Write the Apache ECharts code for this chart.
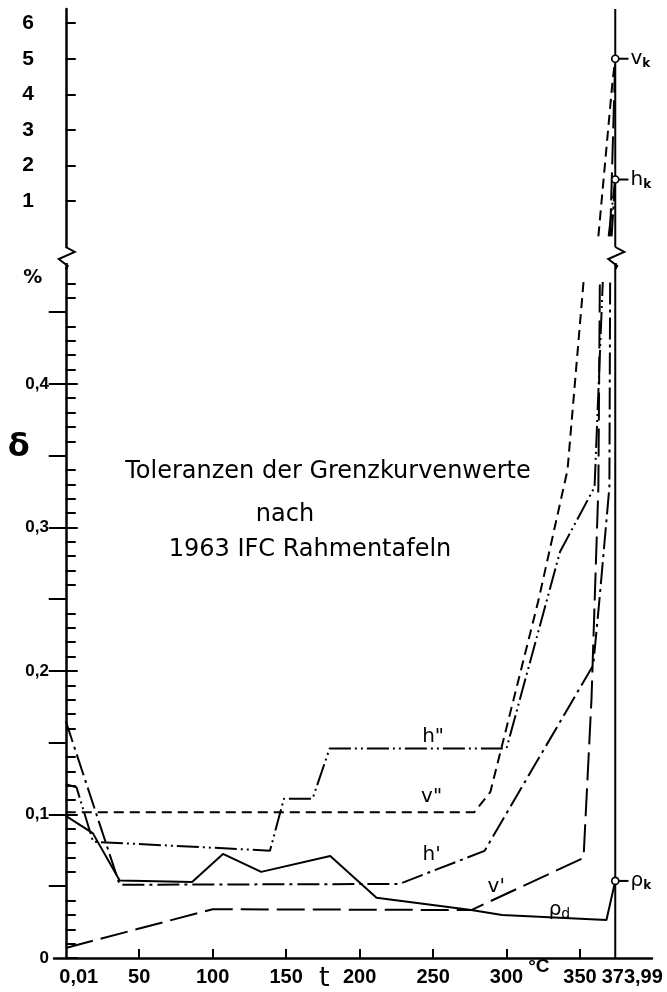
<!DOCTYPE html>
<html>
<head>
<meta charset="utf-8">
<script src="https://cdn.jsdelivr.net/npm/echarts@6/dist/echarts.min.js"></script>
<style>
  html, body { margin: 0; padding: 0; background: #fff; }
  #main { width: 667px; height: 992px; }
</style>
</head>
<body>
<div id="main"></div>
<script>
// t in °C, tolerance delta in %
const tCrit = 373.99;
const xTickValues = [50, 100, 150, 200, 250, 300, 350];
const xLabelValues = [0.01, 50, 100, 150, 200, 250, 300, 350, 373.99];
const yLowLabels = [0, 0.1, 0.2, 0.3, 0.4];
const yUpLabels = [1, 2, 3, 4, 5, 6];

// lower part of the plot (0 ... 0.47 %)
const hPP = [[0.01, 0.121], [7.3, 0.119], [18.6, 0.081], [139, 0.0748], [148.5, 0.111], [168, 0.111], [179.6, 0.146], [300, 0.146], [336.4, 0.283], [359.9, 0.328], [365.5, 0.471]];
const vPP = [[0.01, 0.1015], [278, 0.1015], [289, 0.1157], [321.8, 0.2495], [341.5, 0.34], [352.4, 0.471]];
const hP = [[0.01, 0.165], [36.7, 0.051], [227, 0.0516], [285, 0.0746], [359, 0.204], [363, 0.247], [370, 0.328], [370.5, 0.471]];
const vP = [[0.01, 0.007], [100, 0.034], [276, 0.0334], [352.4, 0.0697], [357.8, 0.18], [362.5, 0.328], [363.5, 0.471]];
const rhoD = [[0.01, 0.099], [18.4, 0.087], [36.7, 0.054], [86, 0.053], [107, 0.0725], [133, 0.06], [180, 0.071], [211.5, 0.042], [276, 0.0334], [297, 0.03], [368, 0.0265], [373.99, 0.0537]];

// upper part of the plot (1 ... 6 %)
const hPPUp = [[369.5, 0], [373.99, 1.6]];
const hPUp = [[371.5, 0], [373.99, 1.6]];
const vPPUp = [[362.5, 0], [372, 4.3], [373.99, 5.0]];
const vPUp = [[370.5, 0], [373.99, 5.0]];

// values at the critical point
const vK = 5.0;
const hK = 1.6;
const rhoK = 0.0537;

// curve captions and where they sit
const curveNames = ['h"', 'v"', "h'", "v'", 'ρd'];
const curveNameAt = [[250, 0.154], [249, 0.1124], [249, 0.0718], [293, 0.0497], [336, 0.0334]];

const ink = '#000';
const xMin = -8, xMax = 399;
const upMin = -0.3, upMax = 6.4;
const lowMax = 0.48;
const leadLen = 9;

// small ticks every 0.01, medium every 0.05
const minorTicks = [];
for (let i = 1; i <= 47; i++) if (i % 5) minorTicks.push(i / 100);
const midTicks = [];
for (let i = 1; i <= 9; i++) midTicks.push(i * 5 / 100);

const chart = echarts.init(document.getElementById('main'));

function curve(data, dash, upper) {
  return {
    type: 'line', data: data, symbol: 'none', silent: true,
    xAxisIndex: upper ? 0 : 1, yAxisIndex: upper ? 0 : 2,
    lineStyle: { color: ink, width: 2, type: dash, opacity: 1 }, z: 3
  };
}

const tickStyle = { color: ink, width: 2 };
const noSplit = { show: false };
const numFont = '"Liberation Sans", Arial, sans-serif';

const option = {
  animation: false,
  backgroundColor: '#fff',
  textStyle: { fontFamily: numFont, color: ink },
  grid: [
    { left: 54, width: 598, top: 9, height: 238, containLabel: false, outerBoundsMode: 'none' },
    { left: 54, width: 598, top: 269, height: 689, containLabel: false, outerBoundsMode: 'none' }
  ],
  xAxis: [
    { gridIndex: 0, type: 'value', min: xMin, max: xMax, show: false, splitLine: noSplit },
    {
      gridIndex: 1, type: 'value', min: xMin, max: xMax,
      axisLine: { onZero: false, lineStyle: { color: ink, width: 2.5 } },
      axisTick: { customValues: xTickValues, inside: true, length: 9, lineStyle: tickStyle },
      axisLabel: {
        customValues: xLabelValues, margin: 9, fontSize: 20, fontWeight: 'bold', color: ink, fontFamily: numFont,
        formatter: function (v) {
          if (v === 0.01) return '{l|0,01}';
          if (v === tCrit) return '{r|373,99}';
          return String(v);
        },
        rich: {
          l: { fontSize: 20, fontWeight: 'bold', fontFamily: numFont, color: ink, padding: [0, 0, 0, 26] },
          r: { fontSize: 20, fontWeight: 'bold', fontFamily: numFont, color: ink, padding: [0, 0, 0, 34] }
        }
      },
      splitLine: noSplit
    },
    {
      gridIndex: 1, type: 'value', min: xMin, max: xMax,
      axisLine: { show: false, onZero: false },
      axisTick: { customValues: [0, tCrit], length: 6, lineStyle: { color: ink, width: 2.5 } },
      axisLabel: { show: false }, splitLine: noSplit
    }
  ],
  yAxis: [
    {
      gridIndex: 0, type: 'value', min: upMin, max: upMax,
      axisLine: { show: true, onZero: true, onZeroAxisIndex: 0, lineStyle: { color: ink, width: 2.5 } },
      axisTick: { customValues: yUpLabels, inside: true, length: 10, lineStyle: tickStyle },
      axisLabel: { customValues: yUpLabels, margin: 20, fontSize: 21, fontWeight: 'bold', color: ink, fontFamily: numFont },
      splitLine: noSplit
    },
    {
      gridIndex: 0, type: 'value', min: upMin, max: upMax,
      axisLine: { show: false, onZero: true, onZeroAxisIndex: 0 },
      axisTick: { customValues: yUpLabels, length: 9, lineStyle: tickStyle },
      axisLabel: { show: false }, splitLine: noSplit
    },
    {
      gridIndex: 1, type: 'value', min: 0, max: lowMax,
      axisLine: { show: true, onZero: true, onZeroAxisIndex: 1, lineStyle: { color: ink, width: 2.5 } },
      axisTick: { customValues: minorTicks, inside: true, length: 10, lineStyle: tickStyle },
      axisLabel: {
        customValues: yLowLabels, margin: 5, fontSize: 17, fontWeight: 'bold', color: ink, fontFamily: numFont,
        formatter: function (v) { return String(v).replace('.', ','); }
      },
      splitLine: noSplit
    },
    {
      gridIndex: 1, type: 'value', min: 0, max: lowMax,
      axisLine: { show: false, onZero: true, onZeroAxisIndex: 1 },
      axisTick: { customValues: midTicks, inside: true, length: 17, lineStyle: tickStyle },
      axisLabel: { show: false }, splitLine: noSplit
    },
    {
      gridIndex: 1, type: 'value', min: 0, max: lowMax,
      axisLine: { show: false, onZero: true, onZeroAxisIndex: 1 },
      axisTick: { customValues: yLowLabels, length: 12, lineStyle: tickStyle },
      axisLabel: { show: false }, splitLine: noSplit
    }
  ],
  series: [
    curve(hPP, [22, 4, 2, 4, 2, 4], false),
    curve(vPP, [10, 6], false),
    curve(hP, [22, 5, 3, 5], false),
    curve(vP, [28, 8], false),
    curve(rhoD, 'solid', false),
    curve(hPPUp, [22, 4, 2, 4, 2, 4], true),
    curve(hPUp, [22, 5, 3, 5], true),
    curve(vPPUp, [10, 6], true),
    curve(vPUp, [28, 8], true),
    // critical isotherm
    {
      type: 'line', xAxisIndex: 0, yAxisIndex: 0, symbol: 'none', silent: true,
      data: [[tCrit, upMin], [tCrit, upMax]], lineStyle: { color: ink, width: 2 }, z: 4
    },
    {
      type: 'line', xAxisIndex: 1, yAxisIndex: 2, symbol: 'none', silent: true,
      data: [[tCrit, 0], [tCrit, lowMax]], lineStyle: { color: ink, width: 2 }, z: 4
    },
    // leader lines to the critical point captions
    ...[[0, vK], [0, hK], [2, rhoK]].map(function (p) {
      return {
        type: 'line', xAxisIndex: p[0] ? 1 : 0, yAxisIndex: p[0], symbol: 'none', silent: true,
        data: [[tCrit, p[1]], [tCrit + leadLen, p[1]]], lineStyle: { color: ink, width: 2 }, z: 4
      };
    }),
    {
      type: 'scatter', xAxisIndex: 0, yAxisIndex: 0, silent: true, symbol: 'circle', symbolSize: 7,
      itemStyle: { color: '#fff', borderColor: ink, borderWidth: 1.7, opacity: 1 }, z: 6,
      data: [[tCrit, vK], [tCrit, hK]]
    },
    {
      type: 'scatter', xAxisIndex: 1, yAxisIndex: 2, silent: true, symbol: 'circle', symbolSize: 7,
      itemStyle: { color: '#fff', borderColor: ink, borderWidth: 1.7, opacity: 1 }, z: 6,
      data: [[tCrit, rhoK]]
    },
    // captions of the critical point
    ...[[0, vK, 'v'], [0, hK, 'h'], [2, rhoK, 'ρ']].map(function (p) {
      return {
        type: 'scatter', xAxisIndex: p[0] ? 1 : 0, yAxisIndex: p[0], silent: true, symbolSize: 0, z: 6,
        itemStyle: { opacity: 1 },
        data: [[tCrit + leadLen, p[1]]],
        label: {
          show: true, position: 'right', distance: 2, color: ink,
          formatter: '{m|' + p[2] + '}{s|k}',
          rich: {
            m: { fontSize: 20, fontFamily: 'DejaVu Sans', color: ink, lineHeight: 22 },
            s: { fontSize: 12, fontFamily: 'DejaVu Sans', fontWeight: 'bold', color: ink, verticalAlign: 'bottom', lineHeight: 14 }
          }
        }
      };
    }),
    // curve captions
    {
      type: 'scatter', xAxisIndex: 1, yAxisIndex: 2, silent: true, symbolSize: 0, z: 6,
      itemStyle: { opacity: 1 },
      data: curveNameAt.map(function (p, i) { return { value: p, name: curveNames[i] }; }),
      label: {
        show: true, position: 'inside', color: ink,
        formatter: function (p) {
          return p.name === 'ρd' ? '{m|ρ}{s|d}' : '{m|' + p.name + '}';
        },
        rich: {
          m: { fontSize: 20, fontFamily: 'DejaVu Sans', color: ink, lineHeight: 22 },
          s: { fontSize: 14, fontFamily: 'DejaVu Sans', color: ink, verticalAlign: 'bottom', lineHeight: 14 }
        }
      }
    }
  ]
};

chart.setOption(option);

// decorations: scale breaks, axis captions, caption text
const px = function (g, t, v) { return chart.convertToPixel({ gridIndex: g }, [t, v]); };
const x0 = px(1, 0, 0)[0];
const xc = px(1, tCrit, 0)[0];
const yA = px(0, 0, upMin)[1];
const yB = px(1, 0, lowMax)[1];
const y0 = px(1, 0, 0)[1];

function zig(x) {
  return {
    type: 'polyline', silent: true, z: 10,
    shape: { points: [[x, yA], [x + 9, yA + 5], [x - 7, yA + 12], [x + 2, yB - 3], [x, yB]] },
    style: { stroke: ink, lineWidth: 2, fill: null }
  };
}
function txt(x, y, text, font) {
  return {
    type: 'text', silent: true, z: 10,
    style: { x: x, y: y, text: text, font: font, fill: ink, align: 'center', verticalAlign: 'middle' }
  };
}

const titleFont = '24px "DejaVu Sans", sans-serif';
chart.setOption({
  graphic: [
    zig(x0),
    zig(xc),
    txt(x0 - 33, yB + 9, '%', 'bold 19px "DejaVu Sans", sans-serif'),
    txt(x0 - 47, 448, 'δ', 'bold 32px "DejaVu Sans", sans-serif'),
    txt(px(1, 176, 0)[0], y0 + 21, 't', '27px "DejaVu Sans", sans-serif'),
    txt(px(1, 322, 0)[0], y0 + 9, '°C', 'bold 19px "Liberation Sans", Arial, sans-serif'),
    txt(328, 472, 'Toleranzen der Grenzkurvenwerte', titleFont),
    txt(285, 515, 'nach', titleFont),
    txt(310, 550, '1963 IFC Rahmentafeln', titleFont)
  ]
});
</script>
</body>
</html>
